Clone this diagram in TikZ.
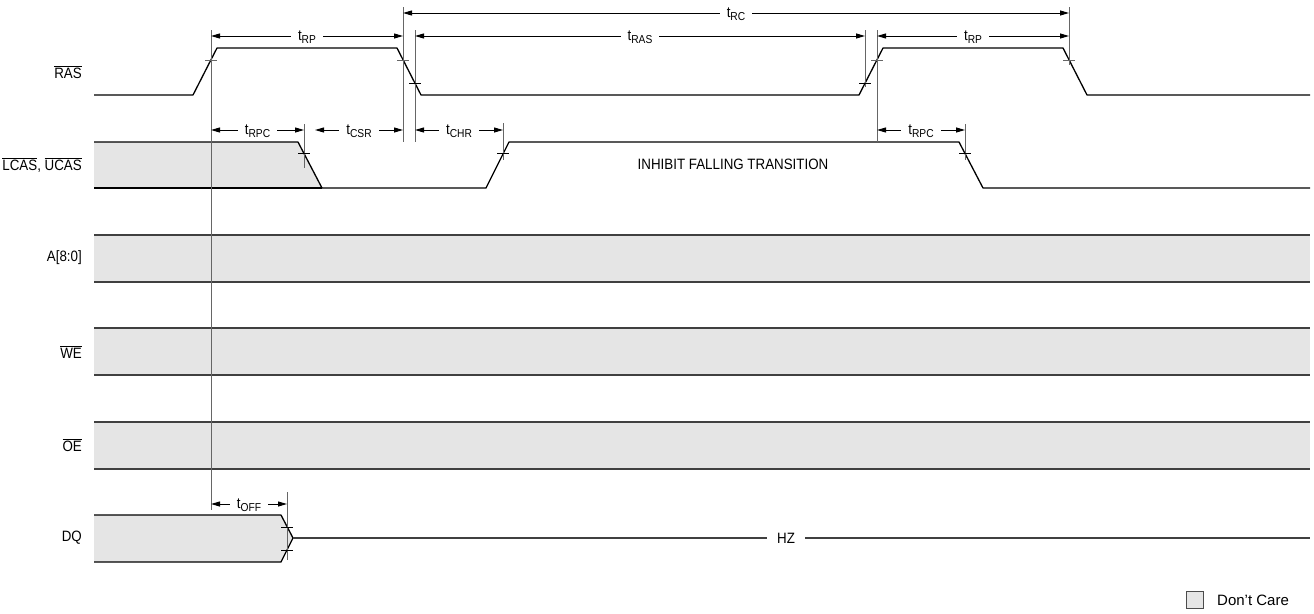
\documentclass[tikz,border=0pt]{standalone}
\usepackage{fontspec}
\setmainfont{Liberation Sans}
\newfontfamily\narrowfont[FakeStretch=0.89]{Liberation Sans}
\usetikzlibrary{arrows.meta}

\newcommand{\ovl}[1]{$\overline{\mbox{#1}}$}
\newcommand{\tsub}[1]{t\raisebox{-3pt}{\fontsize{11.5}{13}\selectfont #1}}
\newcommand{\tick}[3][black]{\draw[tickmark, #1] (#2-6,#3) -- (#2+6,#3);}

\tikzset{
  wave/.style={line width=1.3pt, line join=round},
  guide/.style={black!60, line width=1pt},
  busline/.style={black!75, line width=1.3pt},
  dontcare/.style={fill=black!10},
  tickmark/.style={line width=0.9pt},
  dim/.style={{Triangle[length=9pt,width=5pt]}-{Triangle[length=9pt,width=5pt]}, line width=1pt},
  dimlabel/.style={fill=white, inner xsep=7pt, inner ysep=1pt, yshift=-1pt},
  siglabel/.style={anchor=east, inner sep=0pt},
}

\begin{document}
\begin{tikzpicture}[x=1pt,y=-1pt, font=\narrowfont\fontsize{15}{17}\selectfont]
\useasboundingbox (0,0) rectangle (1314,613);

% signal names
\node[siglabel] (ras)  at (82,72)  {\ovl{RAS}};
\node[siglabel] (cas)  at (82,165) {\ovl{LCAS}, \ovl{UCAS}};
\node[siglabel] (addr) at (82,258) {A[8:0]};
\node[siglabel] (we)   at (82,352) {\ovl{WE}};
\node[siglabel] (oe)   at (82,445) {\ovl{OE}};
\node[siglabel] (dq)   at (82,538) {DQ};

% buses (don't care)
\foreach \y in {235,328,422} {
  \fill[dontcare] (94,\y) rectangle (1310,\y+47);
  \draw[busline] (94,\y) -- (1310,\y);
  \draw[busline] (94,\y+47) -- (1310,\y+47);
}

% RAS
\draw[wave] (94,95) -- (193,95) -- (217,48) -- (397,48) -- (421,95) -- (859,95)
  -- (883,48) -- (1063,48) -- (1087,95) -- (1310,95);

% LCAS, UCAS
\fill[dontcare] (94,142) -- (298,142) -- (322,188) -- (94,188) -- cycle;
\draw[wave] (94,142) -- (298,142) -- (322,188) -- (486,188) -- (509,142) -- (959,142)
  -- (983,188) -- (1310,188);
\draw[wave] (94,188) -- (322,188);
\node (inhibit) at (733,164) {INHIBIT FALLING TRANSITION};

% DQ
\fill[dontcare] (94,515) -- (281,515) -- (293,538) -- (281,562) -- (94,562) -- cycle;
\draw[wave] (94,515) -- (281,515) -- (293,538) -- (281,562) -- (94,562);
\node[inner xsep=10pt] (hz) at (786,538) {HZ};
\draw[busline] (293,538) -- (hz.west);
\draw[busline] (hz.east) -- (1310,538);

% reference lines
\draw[guide] (211,30) -- (211,510);
\draw[guide] (403,7) -- (403,142);
\draw[guide] (415,30) -- (415,142);
\draw[guide] (865,30) -- (865,87);
\draw[guide] (877,30) -- (877,142);
\draw[guide] (1069,7) -- (1069,65);
\draw[guide] (304,124) -- (304,168);
\draw[guide] (503,123) -- (503,160);
\draw[guide] (965,124) -- (965,160);
\draw[guide] (287,492) -- (287,560);

% crossing marks
\tick[black!60]{211}{60}
\tick[black!60]{403}{60}
\tick[black!60]{877}{60}
\tick[black!60]{1069}{60}
\tick{415}{83}
\tick{865}{83}
\tick{304}{153}
\tick{503}{153}
\tick{965}{153}
\tick{287}{527}
\tick{287}{550}

% timing parameters
\draw[dim] (403,13) -- node[dimlabel] (trc) {\tsub{RC}} (1069,13);
\draw[dim] (211,36) -- node[dimlabel] (trp1) {\tsub{RP}} (403,36);
\draw[dim] (415,36) -- node[dimlabel] (tras) {\tsub{RAS}} (865,36);
\draw[dim] (877,36) -- node[dimlabel] (trp2) {\tsub{RP}} (1069,36);
\draw[dim] (211,130) -- node[dimlabel] (trpc1) {\tsub{RPC}} (304,130);
\draw[dim] (315,130) -- node[dimlabel] (tcsr) {\tsub{CSR}} (403,130);
\draw[dim] (415,130) -- node[dimlabel] (tchr) {\tsub{CHR}} (503,130);
\draw[dim] (877,130) -- node[dimlabel] (trpc2) {\tsub{RPC}} (965,130);
\draw[dim] (211,504) -- node[dimlabel] (toff) {\tsub{OFF}} (287,504);

% legend
\node[draw=black!70, line width=0.8pt, dontcare, minimum size=17pt, inner sep=0pt] (dcbox) at (1195,600) {};
\node[anchor=west, font=\normalfont\fontsize{15}{17}\selectfont, inner sep=0pt] (dc) at (1217,600) {Don't Care};
\end{tikzpicture}
\end{document}
